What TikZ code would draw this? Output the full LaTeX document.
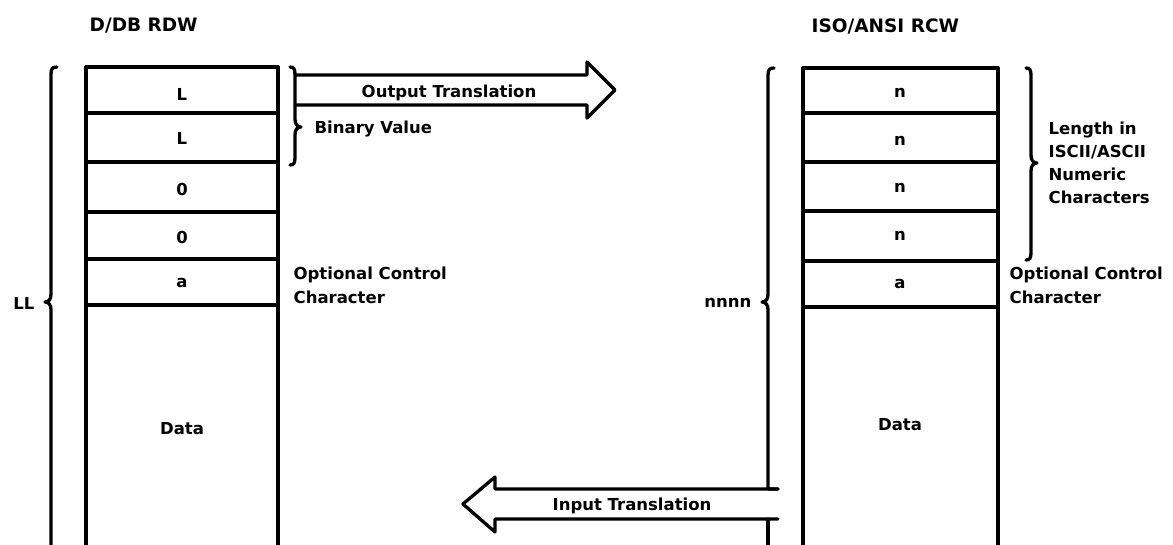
\documentclass[tikz,border=0pt]{standalone}
\usepackage{fontspec}
\setmainfont{DejaVu Sans}
\begin{document}
\begin{tikzpicture}[x=1pt,y=-1pt,
  line width=3.3pt, line join=round, line cap=round,
  lbl/.style={font=\fontsize{16.5}{20}\selectfont\bfseries, inner sep=0pt, anchor=base},
  lblw/.style={lbl, anchor=base west},
  ttl/.style={font=\fontsize{18.5}{22}\selectfont\bfseries, inner sep=0pt, anchor=base west}]
\useasboundingbox (0,0) rectangle (1173,544);
% titles
\node[ttl] (t1) at (88,31) {D/DB RDW};
\node[ttl] (t2) at (810,32) {ISO/ANSI RCW};
% left record
\draw (86,552) -- (86,67) -- (278,67) -- (278,552);
\foreach \y in {113,162,212,259,305} \draw (86,\y) -- (278,\y);
\node[lbl] (l1) at (182,100) {L};
\node[lbl] (l2) at (182,144) {L};
\node[lbl] (l3) at (182,195) {0};
\node[lbl] (l4) at (182,243) {0};
\node[lbl] (l5) at (182,287) {a};
\node[lbl] (l6) at (182,434) {Data};
% right record
\draw (803,552) -- (803,68) -- (998,68) -- (998,552);
\foreach \y in {113,162,211,261,307} \draw (803,\y) -- (998,\y);
\node[lbl] (r1) at (900,97) {n};
\node[lbl] (r2) at (900,145) {n};
\node[lbl] (r3) at (900,192) {n};
\node[lbl] (r4) at (900,240) {n};
\node[lbl] (r5) at (900,288) {a};
\node[lbl] (r6) at (900,430) {Data};
% LL brace
\draw (57,67) .. controls (52,67) and (51,69) .. (51,75) -- (51,294)
  .. controls (51,299) and (49,302) .. (45,302)
  .. controls (49,302) and (51,305) .. (51,310) -- (51,552);
\node[lbl, anchor=base east] (ll) at (36,309) {LL};
% binary value brace
\draw (290,67) .. controls (294,67) and (295,69) .. (295,75) -- (295,119)
  .. controls (295,124) and (297,127) .. (301,127)
  .. controls (297,127) and (295,130) .. (295,135) -- (295,157)
  .. controls (295,163) and (294,165) .. (290,165);
\node[lblw] (bv) at (313,133) {Binary Value};
% output translation arrow
\draw (295,75) -- (587,75) -- (587,62) -- (615,90) -- (587,118) -- (587,105) -- (295,105);
\node[lbl] (ot) at (449,97) {Output Translation};
% optional control labels
\node[lblw] (oc1) at (292,279) {Optional Control};
\node[lblw] (oc2) at (292,303) {Character};
\node[lblw] (oc3) at (1008,279) {Optional Control};
\node[lblw] (oc4) at (1008,303) {Character};
% length brace
\draw (1026,68) .. controls (1030,68) and (1031,70) .. (1031,76) -- (1031,155)
  .. controls (1031,160) and (1033,163) .. (1037,163)
  .. controls (1033,163) and (1031,166) .. (1031,171) -- (1031,252)
  .. controls (1031,258) and (1030,260) .. (1026,260);
\node[lblw] (ln1) at (1047,134) {Length in};
\node[lblw] (ln2) at (1047,157) {ISCII/ASCII};
\node[lblw] (ln3) at (1047,180) {Numeric};
\node[lblw] (ln4) at (1047,203) {Characters};
% nnnn brace with input translation arrow
\draw (774,68) .. controls (769,68) and (768,70) .. (768,76) -- (768,294)
  .. controls (768,299) and (766,302) .. (762,302)
  .. controls (766,302) and (768,305) .. (768,310) -- (768,489) -- (778,489);
\draw (768,519) -- (768,552);
\node[lbl, anchor=base east] (nn) at (753,307) {nnnn};
\draw (778,489) -- (495,489) -- (495,477) -- (463,504) -- (495,532) -- (495,519) -- (778,519);
\node[lbl] (it) at (632,510) {Input Translation};
\end{tikzpicture}
\end{document}
